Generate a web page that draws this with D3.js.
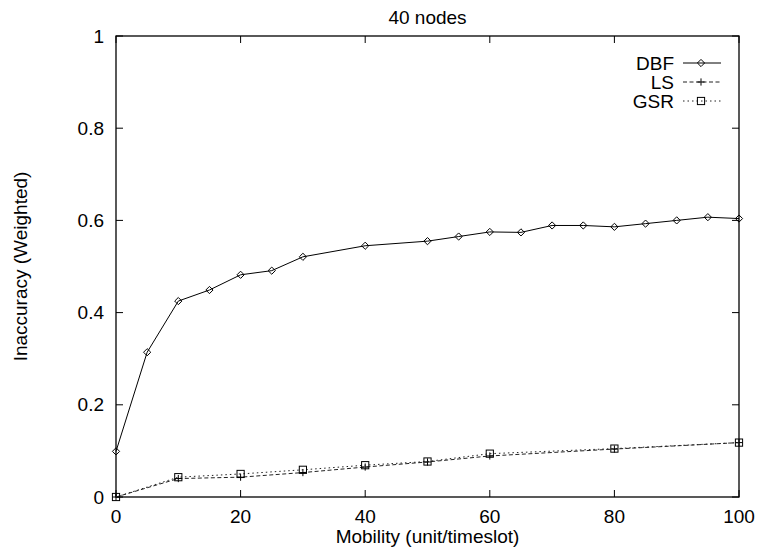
<!DOCTYPE html>
<html>
<head>
<meta charset="utf-8">
<script src="https://cdn.jsdelivr.net/npm/d3@7"></script>
<style>
  html, body { margin: 0; padding: 0; background: #fff; }
  svg text { font-family: "Liberation Sans", Arial, Helvetica, sans-serif; fill: #000; }
</style>
</head>
<body>
<svg id="chart" width="758" height="552"></svg>
<script>
const title = "40 nodes";
const xLabel = "Mobility (unit/timeslot)";
const yLabel = "Inaccuracy (Weighted)";
const xTicks = [0, 20, 40, 60, 80, 100];
const yTicks = [0, 0.2, 0.4, 0.6, 0.8, 1];
const yTickLabels = ["0", "0.2", "0.4", "0.6", "0.8", "1"];

const dbfX = [0, 5, 10, 15, 20, 25, 30, 40, 50, 55, 60, 65, 70, 75, 80, 85, 90, 95, 100];
const dbfY = [0.099, 0.314, 0.425, 0.449, 0.482, 0.491, 0.521, 0.545, 0.555, 0.565, 0.575, 0.574, 0.589, 0.589, 0.586, 0.593, 0.600, 0.607, 0.604];
const lsX = [0, 10, 20, 30, 40, 50, 60, 80, 100];
const lsY = [0, 0.040, 0.043, 0.053, 0.065, 0.076, 0.089, 0.104, 0.118];
const gsrX = [0, 10, 20, 30, 40, 50, 60, 80, 100];
const gsrY = [0, 0.043, 0.050, 0.059, 0.069, 0.077, 0.094, 0.105, 0.118];

const seriesNames = ["DBF", "LS", "GSR"];

const svg = d3.select("#chart");
const L = 116, R = 739, T = 36, B = 497;
const x = d3.scaleLinear().domain([0, 100]).range([L, R]);
const y = d3.scaleLinear().domain([0, 1]).range([B, T]);
const FS = 19;
const tickLen = 7;

// ticks (inward, mirrored)
const g = svg.append("g");
xTicks.forEach(v => {
  g.append("line").attr("x1", x(v)).attr("x2", x(v)).attr("y1", B).attr("y2", B - tickLen).attr("stroke", "#000");
  g.append("line").attr("x1", x(v)).attr("x2", x(v)).attr("y1", T).attr("y2", T + tickLen).attr("stroke", "#000");
  g.append("text").attr("x", x(v)).attr("y", 523).attr("text-anchor", "middle").attr("font-size", FS).text(v);
});
yTicks.forEach((v, i) => {
  g.append("line").attr("x1", L).attr("x2", L + tickLen).attr("y1", y(v)).attr("y2", y(v)).attr("stroke", "#000");
  g.append("line").attr("x1", R).attr("x2", R - tickLen).attr("y1", y(v)).attr("y2", y(v)).attr("stroke", "#000");
  g.append("text").attr("x", 104).attr("y", y(v)).attr("dy", "0.35em").attr("text-anchor", "end").attr("font-size", FS).text(yTickLabels[i]);
});

// frame
svg.append("rect").attr("x", L).attr("y", T).attr("width", R - L).attr("height", B - T)
  .attr("fill", "none").attr("stroke", "#000").attr("stroke-width", 1.3);

// labels
svg.append("text").attr("x", (L + R) / 2).attr("y", 24).attr("text-anchor", "middle").attr("font-size", FS).text(title);
svg.append("text").attr("x", (L + R) / 2).attr("y", 543).attr("text-anchor", "middle").attr("font-size", FS).text(xLabel);
svg.append("text").attr("transform", `translate(27,${(T + B) / 2}) rotate(-90)`).attr("text-anchor", "middle").attr("font-size", FS).text(yLabel);

const line = d3.line().x(d => x(d[0])).y(d => y(d[1]));
const styles = [
  { dash: null, color: "#000" },
  { dash: "4,2.5", color: "#222" },
  { dash: "1.5,3", color: "#222" }
];
const data = [
  d3.zip(dbfX, dbfY),
  d3.zip(lsX, lsY),
  d3.zip(gsrX, gsrY)
];

function marker(sel, kind, cx, cy) {
  const s = 3.6;
  if (kind === 0) {
    sel.append("path").attr("d", `M${cx},${cy - s}L${cx + s},${cy}L${cx},${cy + s}L${cx - s},${cy}Z`)
      .attr("fill", "none").attr("stroke", "#000").attr("stroke-width", 1);
  } else if (kind === 1) {
    sel.append("path").attr("d", `M${cx - s},${cy}H${cx + s}M${cx},${cy - s}V${cy + s}`)
      .attr("fill", "none").attr("stroke", "#000").attr("stroke-width", 1);
  } else {
    sel.append("rect").attr("x", cx - s).attr("y", cy - s).attr("width", 2 * s).attr("height", 2 * s)
      .attr("fill", "none").attr("stroke", "#000").attr("stroke-width", 1);
  }
}

data.forEach((d, i) => {
  svg.append("path").datum(d).attr("d", line).attr("fill", "none")
    .attr("stroke", styles[i].color).attr("stroke-width", 1)
    .attr("stroke-dasharray", styles[i].dash);
  const mg = svg.append("g");
  d.forEach(p => marker(mg, i, x(p[0]), y(p[1])));
});

// legend
const legY = [63, 82, 101];
seriesNames.forEach((n, i) => {
  svg.append("text").attr("x", 674).attr("y", legY[i]).attr("dy", "0.35em").attr("text-anchor", "end").attr("font-size", FS).text(n);
  svg.append("line").attr("x1", 683).attr("x2", 721).attr("y1", legY[i]).attr("y2", legY[i])
    .attr("stroke", styles[i].color).attr("stroke-width", 1).attr("stroke-dasharray", styles[i].dash);
  marker(svg, i, 701, legY[i]);
});
</script>
</body>
</html>
